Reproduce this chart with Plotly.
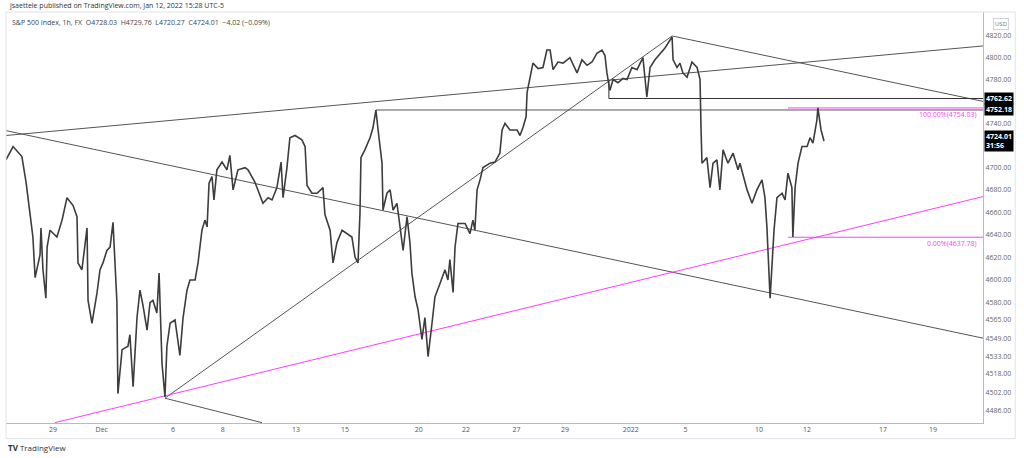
import math
import plotly.graph_objects as go

# price path (x = trading-day index, Nov 29 = 0)
days = [-1.92, -1.63, -1.27, -1.10, -0.94, -0.82, -0.73, -0.53, -0.49, -0.41, -0.29, -0.24, -0.12,
        0.16, 0.37, 0.57, 0.82, 0.98, 1.02, 1.18, 1.39, 1.43, 1.59, 1.80, 1.92, 2.04, 2.20, 2.33,
        2.45, 2.53, 2.61, 2.65, 2.82, 3.06, 3.14, 3.27, 3.43, 3.55, 3.67, 3.84, 3.96, 4.08, 4.24,
        4.33, 4.45, 4.57, 4.65, 4.78, 4.98, 5.18, 5.31, 5.47, 5.59, 5.80, 5.92, 6.08, 6.20, 6.29,
        6.37, 6.49, 6.57, 6.69, 6.90, 7.10, 7.22, 7.35, 7.55, 7.84, 7.96, 8.24, 8.57, 8.78, 8.94,
        9.14, 9.31, 9.39, 9.55, 9.67, 9.88, 10.16, 10.29, 10.37, 10.57, 10.78, 11.02, 11.10, 11.31,
        11.43, 11.59, 11.80, 12.00, 12.20, 12.33, 12.45, 12.53, 12.57, 12.73, 12.94, 13.06, 13.18,
        13.27, 13.43, 13.47, 13.63, 13.76, 13.88, 14.04, 14.16, 14.29, 14.45, 14.57, 14.65, 14.78,
        14.90, 15.06, 15.18, 15.31, 15.47, 15.59, 15.80, 16.00, 16.12, 16.20, 16.33, 16.41, 16.53,
        16.82, 17.02, 17.14, 17.22, 17.31, 17.43, 17.55, 17.84, 18.04, 18.24, 18.33, 18.45, 18.65,
        18.94, 19.06, 19.18, 19.31, 19.35, 19.47, 19.59, 19.80, 20.00, 20.16, 20.29, 20.41, 20.61,
        20.82, 21.10, 21.39, 21.59, 21.80, 22.00, 22.20, 22.41, 22.53, 22.61, 22.73, 22.86, 23.06,
        23.27, 23.43, 23.63, 23.84, 24.08, 24.24, 24.37, 24.57, 24.78, 24.98, 25.18, 25.27, 25.31,
        25.47, 25.59, 25.71, 25.88, 26.08, 26.29, 26.41, 26.45, 26.49, 26.69, 26.82, 26.94, 27.10,
        27.22, 27.35, 27.55, 27.76, 27.96, 28.04, 28.33, 28.53, 28.73, 28.94, 29.06, 29.14, 29.27,
        29.35, 29.43, 29.55, 29.76, 29.88, 30.00, 30.16, 30.20, 30.29, 30.41, 30.57, 30.78, 30.90,
        31.02, 31.18, 31.22, 31.35, 31.43, 31.47]
prices = [4707, 4719, 4710, 4687, 4659, 4638, 4602, 4622, 4646, 4609, 4584, 4629, 4644,
          4638, 4653, 4673, 4666, 4656, 4615, 4609, 4646, 4582, 4562, 4589, 4609, 4615, 4626, 4629,
          4651, 4615, 4580, 4501, 4539, 4542, 4552, 4507, 4567, 4591, 4578, 4556, 4580, 4582, 4571,
          4606, 4527, 4498, 4542, 4562, 4565, 4534, 4567, 4591, 4600, 4600, 4615, 4644, 4653, 4647,
          4686, 4692, 4671, 4698, 4705, 4698, 4711, 4680, 4698, 4700, 4698, 4687, 4668, 4673, 4671,
          4682, 4705, 4673, 4700, 4727, 4729, 4725, 4719, 4684, 4677, 4677, 4682, 4658, 4644,
          4615, 4633, 4644, 4641, 4638, 4620, 4615, 4659, 4709, 4716, 4727, 4736, 4752,
          4734, 4704, 4662, 4677, 4680, 4662, 4668, 4650, 4626, 4656, 4633, 4606, 4585,
          4574, 4548, 4567, 4533, 4562, 4585, 4597, 4609, 4600, 4618, 4589, 4629, 4650,
          4650, 4641, 4653, 4644, 4680, 4689, 4700, 4704, 4705, 4713, 4734, 4740, 4734,
          4734, 4729, 4736, 4746, 4768, 4782, 4795, 4790, 4791, 4807, 4807, 4789, 4796,
          4795, 4800, 4786, 4798, 4793, 4796, 4804, 4807, 4802, 4786, 4770, 4780, 4777,
          4781, 4780, 4791, 4789, 4800, 4764, 4791, 4798, 4804, 4809, 4816, 4819, 4798,
          4791, 4795, 4786, 4782, 4796, 4791, 4780, 4736, 4704, 4709, 4682, 4704, 4707,
          4680, 4716, 4704, 4713, 4698, 4704, 4680, 4668, 4680, 4689, 4673, 4647, 4584,
          4615, 4644, 4673, 4677, 4671, 4695, 4682, 4638, 4682, 4704, 4719, 4719, 4727,
          4722, 4743, 4754, 4734, 4725, 4724]

# drawn trendlines: (days, prices)
upper_channel = ([-1.92, 37.96], [4729.0, 4810.8])
falling_line = ([-1.92, 37.96], [4733.4, 4549.0])
rise_line = ([4.57, 25.27], [4497, 4820])
peak_line = ([25.27, 37.96], [4820, 4760])
low_line = ([4.57, 8.53], [4497, 4476])
pink_line = ([0.08, 37.96], [4476, 4674])
level_dec16 = ([13.18, 37.96], [4752.18, 4752.18])
level_dec30 = ([22.69, 22.69, 37.96], [4780, 4762.62, 4762.62])
fib_start = 30.0
fib_high = 4754.03
fib_low = 4637.78

x_tick_vals = [0, 1.99, 4.90, 6.93, 9.92, 11.92, 14.93, 16.86, 18.92, 20.90, 23.58, 25.82,
               28.82, 30.78, 33.88, 35.92]
x_tick_text = ["29", "Dec", "6", "8", "13", "15", "20", "22", "27", "29", "2022", "5",
               "10", "12", "17", "19"]
y_ticks = [4820, 4800, 4780, 4740, 4700, 4680, 4660, 4640, 4620, 4600, 4580, 4565, 4549,
           4533, 4518, 4502, 4486]

gray = "#555555"
pink = "#ff3cff"
font = "Open Sans"

fig = go.Figure()

for (xs, ys), col in [(upper_channel, gray), (falling_line, gray), (rise_line, gray),
                      (peak_line, gray), (low_line, gray), (pink_line, pink),
                      (level_dec16, gray), (level_dec30, "#333333")]:
    fig.add_trace(go.Scatter(x=xs, y=ys, mode="lines", line=dict(color=col, width=1),
                             hoverinfo="skip", showlegend=False))

fig.add_trace(go.Scatter(x=[fib_start, 37.96], y=[fib_high, fib_high], mode="lines",
                         line=dict(color=pink, width=1), showlegend=False))
fig.add_trace(go.Scatter(x=[fib_start, 37.96], y=[fib_low, fib_low], mode="lines",
                         line=dict(color=pink, width=1), showlegend=False))

fig.add_trace(go.Scatter(x=days, y=prices, mode="lines", line=dict(color="#3d3d3d", width=1.6),
                         showlegend=False, name="SPX500"))

fig.update_layout(
    width=1024, height=458,
    margin=dict(l=6, r=41, t=12, b=35),
    paper_bgcolor="white", plot_bgcolor="white",
    font=dict(family=font, size=7, color="#555"),
    xaxis=dict(range=[-1.918, 37.96], tickvals=x_tick_vals, ticktext=x_tick_text,
               showgrid=False, zeroline=False, ticks="", showline=True, linecolor="#bbbbbb",
               tickfont=dict(size=7, color="#555")),
    yaxis=dict(type="log", side="right", range=[3.65086, 3.68504], tickvals=y_ticks,
               ticktext=[f"{v:.2f}" for v in y_ticks], showgrid=False, zeroline=False,
               ticks="", showline=True, linecolor="#bbbbbb", tickfont=dict(size=7, color="#666")),
)

# frame around the panes
fig.add_shape(type="rect", xref="paper", yref="paper", x0=0, x1=1.033, y0=-0.038, y1=1,
              line=dict(color="#e0e3eb", width=1))

# price labels on the axis
for val, txt in [(4762.62, "4762.62"), (4752.18, "4752.18"), (4724.01, "4724.01<br>31:56")]:
    fig.add_annotation(x=1, xref="paper", y=math.log10(val), yref="y", text="<b>" + txt + "</b>",
                       showarrow=False, xanchor="left", xshift=1, align="left",
                       bgcolor="black", font=dict(color="white", size=7, family=font),
                       borderpad=1)

fig.add_annotation(x=1, xref="paper", y=math.log10(fib_high), yref="y", text="100.00%(4754.03)",
                   showarrow=False, xanchor="right", yanchor="top", xshift=-4,
                   font=dict(color=pink, size=7, family=font))
fig.add_annotation(x=1, xref="paper", y=math.log10(fib_low), yref="y", text="0.00%(4637.78)",
                   showarrow=False, xanchor="right", yanchor="top", xshift=-4,
                   font=dict(color=pink, size=7, family=font))

fig.add_annotation(x=1, xref="paper", y=1, yref="paper", text="USD", showarrow=False,
                   xanchor="left", yanchor="top", xshift=10, yshift=-6,
                   bordercolor="#d0d3db", borderwidth=1, borderpad=1,
                   font=dict(size=6, color="#777", family=font))

fig.add_annotation(x=0, xref="paper", y=1, yref="paper",
                   text="jsaettele published on TradingView.com, Jan 12, 2022 15:28 UTC-5",
                   showarrow=False, xanchor="left", yanchor="bottom", xshift=1, yshift=0,
                   font=dict(size=7, color="#333", family=font))
fig.add_annotation(x=0, xref="paper", y=1, yref="paper",
                   text="S&P 500 Index, 1h, FX  O4728.03  H4729.76  L4720.27  C4724.01  \u22124.02 (\u22120.09%)",
                   showarrow=False, xanchor="left", yanchor="top", xshift=4, yshift=-4,
                   font=dict(size=7, color="#444", family=font))
fig.add_annotation(x=0, xref="paper", y=0, yref="paper", text="<b>TV</b> TradingView",
                   showarrow=False, xanchor="left", yanchor="top", xshift=0, yshift=-17,
                   font=dict(size=8, color="#333", family=font))

fig.write_html("out.html", config={"displayModeBar": False},
               post_script="document.body.style.margin='0px';")
